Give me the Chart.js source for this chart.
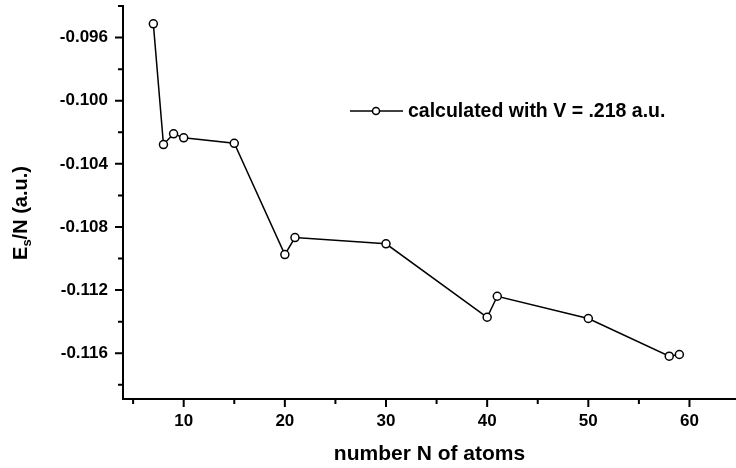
<!DOCTYPE html>
<html>
<head>
<meta charset="utf-8">
<script src="https://cdn.jsdelivr.net/npm/chart.js@4.4.0/dist/chart.umd.min.js"></script>
<style>
    html, body { margin: 0; padding: 0; background: #fff; overflow: hidden; }
    canvas { display: block; }
</style>
</head>
<body>
<canvas id="energycanvas" width="736" height="468"></canvas>
<script>
// number N of atoms in the cluster
let atomCounts = [7, 8, 9, 10, 15, 20, 21, 30, 40, 41, 50, 58, 59];
// Es/N (a.u.)
let energyPerAtom = [-0.09513, -0.10278, -0.1021, -0.10235, -0.1027, -0.10975, -0.10867,
                     -0.10907, -0.11372, -0.11239, -0.1138, -0.11619, -0.11608];
let xTickLabels = [10, 20, 30, 40, 50, 60];
let yTickLabels = [-0.096, -0.100, -0.104, -0.108, -0.112, -0.116];
let seriesLabel = 'calculated with V = .218 a.u.';

let fontFamily = '"Liberation Sans", Arial, Helvetica, sans-serif';

// tick marks outside the axes, long ones at labels and short ones in between
let tickMarks = {
    id: 'tickMarks',
    afterDraw(chart) {
        let ctx = chart.ctx;
        let xs = chart.scales.x;
        let ys = chart.scales.y;
        let area = chart.chartArea;
        ctx.save();
        ctx.strokeStyle = '#000';
        ctx.lineWidth = 2;
        ctx.beginPath();
        for (let i = 1; i <= 12; i++) {
            let v = i * 5;
            let px = xs.getPixelForValue(v);
            let len = xTickLabels.includes(v) ? 8 : 5;
            ctx.moveTo(px, area.bottom);
            ctx.lineTo(px, area.bottom + len);
        }
        for (let i = 47; i <= 59; i++) {
            let v = -i * 0.002;
            let py = ys.getPixelForValue(v);
            let major = yTickLabels.some(l => Math.abs(l - v) < 1e-7);
            let len = major ? 8 : 5;
            ctx.moveTo(area.left, py);
            ctx.lineTo(area.left - len, py);
        }
        ctx.stroke();
        ctx.restore();
    }
};

// y title with subscript, legend with line + open circle
let extraText = {
    id: 'extraText',
    afterDraw(chart) {
        let ctx = chart.ctx;
        ctx.save();
        ctx.fillStyle = '#000';

        // y axis title
        ctx.translate(21, 213);
        ctx.rotate(-Math.PI / 2);
        ctx.textBaseline = 'middle';
        let big = 'bold 20px ' + fontFamily;
        let small = 'bold 13px ' + fontFamily;
        ctx.font = big;
        let wE = ctx.measureText('E').width;
        let wRest = ctx.measureText('/N (a.u.)').width;
        ctx.font = small;
        let wS = ctx.measureText('s').width;
        let x0 = -(wE + wS + wRest) / 2;
        ctx.font = big;
        ctx.textAlign = 'left';
        ctx.fillText('E', x0, 0);
        ctx.font = small;
        ctx.fillText('s', x0 + wE, 6);
        ctx.font = big;
        ctx.fillText('/N (a.u.)', x0 + wE + wS, 0);
        ctx.restore();

        // legend
        ctx.save();
        let ly = 111;
        ctx.strokeStyle = '#000';
        ctx.lineWidth = 1.5;
        ctx.beginPath();
        ctx.moveTo(350, ly);
        ctx.lineTo(403, ly);
        ctx.stroke();
        ctx.beginPath();
        ctx.arc(376, ly, 3.5, 0, Math.PI * 2);
        ctx.fillStyle = '#fff';
        ctx.fill();
        ctx.stroke();
        ctx.fillStyle = '#000';
        ctx.font = 'bold 19.5px ' + fontFamily;
        ctx.textAlign = 'left';
        ctx.textBaseline = 'middle';
        ctx.fillText(seriesLabel, 408, ly + 1);
        ctx.restore();
    }
};

function createEnergyChart() {
    let points = atomCounts.map(function(n, i) {
        return { x: n, y: energyPerAtom[i] };
    });

    let canvas = document.getElementById('energycanvas').getContext('2d');
    return new Chart(canvas, {
        type: 'scatter',
        data: {
            datasets: [{
                label: seriesLabel,
                data: points,
                showLine: true,
                borderColor: '#000',
                borderWidth: 1.5,
                pointRadius: 4,
                pointBorderWidth: 1.5,
                pointBorderColor: '#000',
                pointBackgroundColor: '#fff',
                clip: false
            }]
        },
        options: {
            animation: false,
            responsive: false,
            devicePixelRatio: 1,
            layout: { autoPadding: false, padding: { top: 6, right: 0, bottom: 0, left: 0 } },
            plugins: {
                legend: { display: false },
                tooltip: { enabled: false }
            },
            scales: {
                x: {
                    type: 'linear',
                    min: 4,
                    max: 64.6,
                    afterBuildTicks: function(scale) {
                        scale.ticks = xTickLabels.map(v => ({ value: v }));
                    },
                    afterFit: function(scale) {
                        scale.height = 69;
                        scale.paddingLeft = 0;
                        scale.paddingRight = 0;
                    },
                    grid: { display: false, drawTicks: false },
                    border: { display: true, color: '#000', width: 2 },
                    ticks: {
                        autoSkip: false,
                        maxRotation: 0,
                        padding: 12,
                        color: '#000',
                        font: { family: fontFamily, size: 17, weight: 'bold' },
                        callback: function(value) { return String(value); }
                    },
                    title: {
                        display: true,
                        text: 'number N of atoms',
                        color: '#000',
                        font: { family: fontFamily, size: 21, weight: 'bold' },
                        padding: { top: 0, bottom: 1 }
                    }
                },
                y: {
                    type: 'linear',
                    min: -0.1189,
                    max: -0.0940,
                    afterBuildTicks: function(scale) {
                        scale.ticks = yTickLabels.map(v => ({ value: v }));
                    },
                    afterFit: function(scale) {
                        scale.width = 123;
                        scale.paddingTop = 0;
                        scale.paddingBottom = 0;
                    },
                    grid: { display: false, drawTicks: false },
                    border: { display: true, color: '#000', width: 2 },
                    ticks: {
                        autoSkip: false,
                        padding: 15,
                        color: '#000',
                        font: { family: fontFamily, size: 17, weight: 'bold' },
                        callback: function(value) { return value.toFixed(3); }
                    }
                }
            }
        },
        plugins: [tickMarks, extraText]
    });
}

createEnergyChart();
</script>
</body>
</html>
